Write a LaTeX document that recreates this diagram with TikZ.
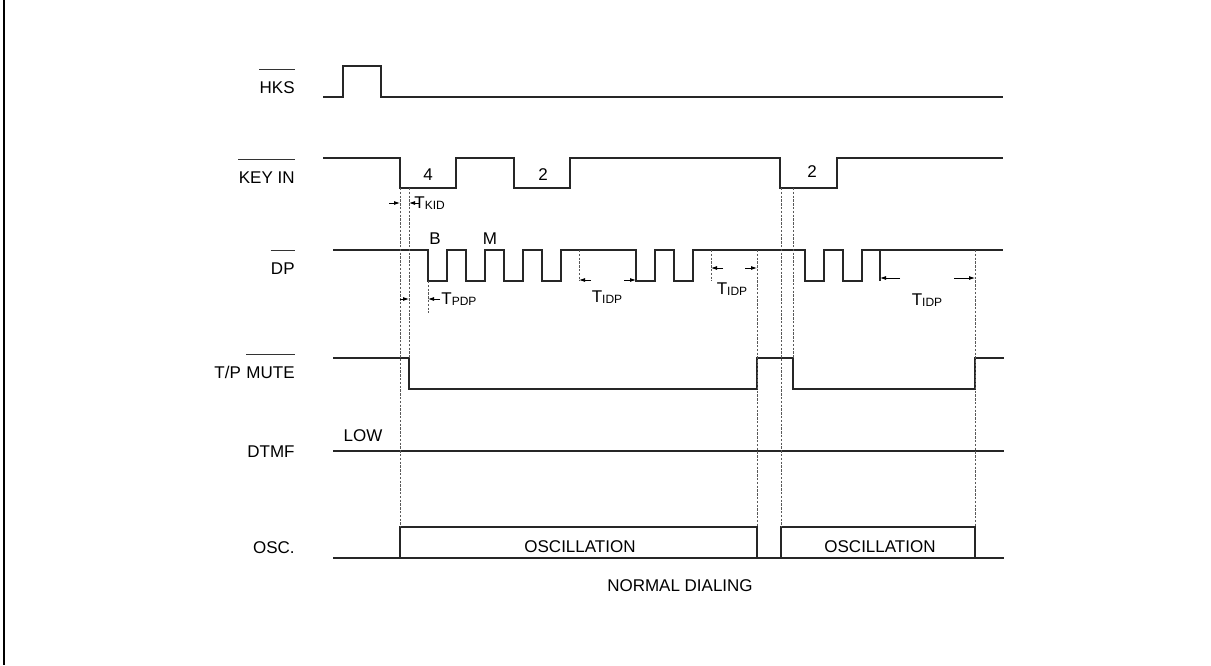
\documentclass[tikz,border=0pt]{standalone}
\usepackage{fontspec}
\setmainfont{Liberation Sans}
\usepackage{tikz}
\usetikzlibrary{arrows.meta, positioning, calc}

% timing label: T with a small subscript
\newcommand{\tsub}[1]{T\raisebox{-0.5pt}{\fontsize{6}{6}\selectfont #1}}

\begin{document}
\begin{tikzpicture}[x=0.5pt, y=-0.5pt, font=\fontsize{8.5}{10}\selectfont,
    wave/.style={line width=0.55pt, black!85},
    guide/.style={line width=0.45pt, black!65, dash pattern=on 1.2pt off 0.7pt},
    dim/.style={-{Latex[length=3pt,width=2pt]}, line width=0.4pt},
    sname/.style={anchor=base east, inner sep=0pt},
    txt/.style={inner sep=0pt}]
  \useasboundingbox (0,0) rectangle (1211,665);
  \draw[line width=1.25pt] (4,0) -- (4,665);

  % Signal names
  \node[sname] (hks) at (295,93) {HKS};
  \node[sname] (key) at (295,183) {KEY IN};
  \node[sname] (dp) at (295,274) {DP};
  \node[sname] (mute) at (295,378) {MUTE};
  \node[sname] (tp) at (mute.base west) {T/P\rule{0.278em}{0pt}};
  \node[sname] (dtmf) at (295,457) {DTMF};
  \node[sname] (osc) at (295,553) {OSC.};
  % Active-low bars
  \foreach \n in {hks,key,dp,mute}
    \draw[line width=0.5pt, black!80] ($(\n.base west)+(0,-24)$) -- ($(\n.base east)+(0,-24)$);

  % Waveforms
  \draw[wave] (323,97) -- (343,97) -- (343,66) -- (381,66) -- (381,97) -- (1003,97);
  \draw[wave] (323,158) -- (400,158) -- (400,188) -- (456,188) -- (456,158)
    -- (514,158) -- (514,188) -- (570,188) -- (570,158) -- (780,158)
    -- (780,188) -- (837,188) -- (837,158) -- (1003,158);
  \draw[wave] (333,250)
    \foreach \x in {428,466,504,542,636,674,805,843} {
      -- (\x,250) -- (\x,281) -- (\x+19,281) -- (\x+19,250) }
    -- (1003,250);
  \draw[wave] (333,358) -- (409,358) -- (409,389) -- (757,389) -- (757,358)
    -- (793,358) -- (793,389) -- (975,389) -- (975,358) -- (1004,358);
  \draw[wave] (333,451) -- (1004,451);
  % Oscillator: base line with two running boxes
  \draw[wave] (333,558) -- (1004,558);
  \draw[wave] (400,558) rectangle (757,527);
  \draw[wave] (781,558) rectangle (975,527);

  % Guide lines
  \foreach \x/\a/\b in {400/188/527, 409/188/358, 428/281/313, 579/250/281,
      711/250/281, 757/250/527, 781/188/527, 793/188/358, 975/250/527}
    \draw[guide] (\x,\a) -- (\x,\b);
  \draw[wave] (880,250) -- (880,281);

  % Timing arrows
  \draw[dim] (389,203) -- (400,203);
  \draw[dim] (419,203) -- (409,203);
  \draw[dim] (400,299) -- (409,299);
  \draw[dim] (440,299) -- (428,299);
  \draw[dim] (591,280) -- (579,280);
  \draw[dim] (624,280) -- (636,280);
  \draw[dim] (723,268) -- (711,268);
  \draw[dim] (745,268) -- (757,268);
  \draw[dim] (900,278) -- (880,278);
  \draw[dim] (954,278) -- (975,278);

  % Labels
  \node[txt, anchor=west] (tkid) at (414,203) {\tsub{KID}};
  \node[txt, anchor=west] (tpdp) at (441,299) {\tsub{PDP}};
  \node[txt] (tidpa) at (607,297) {\tsub{IDP}};
  \node[txt] (tidpb) at (732,289) {\tsub{IDP}};
  \node[txt] (tidpc) at (927,300) {\tsub{IDP}};
  \node[txt] (dig4) at (428,175) {4};
  \node[txt] (dig2a) at (543,175) {2};
  \node[txt] (dig2b) at (812,172) {2};
  \node[txt] (bk) at (435,239) {B};
  \node[txt] (mk) at (490,239) {M};
  \node[txt] (low) at (363,436) {LOW};
  \node[txt] (osca) at (580,547) {OSCILLATION};
  \node[txt] (oscb) at (880,547) {OSCILLATION};
  \node[txt] (dial) at (680,586) {NORMAL DIALING};
\end{tikzpicture}
\end{document}
